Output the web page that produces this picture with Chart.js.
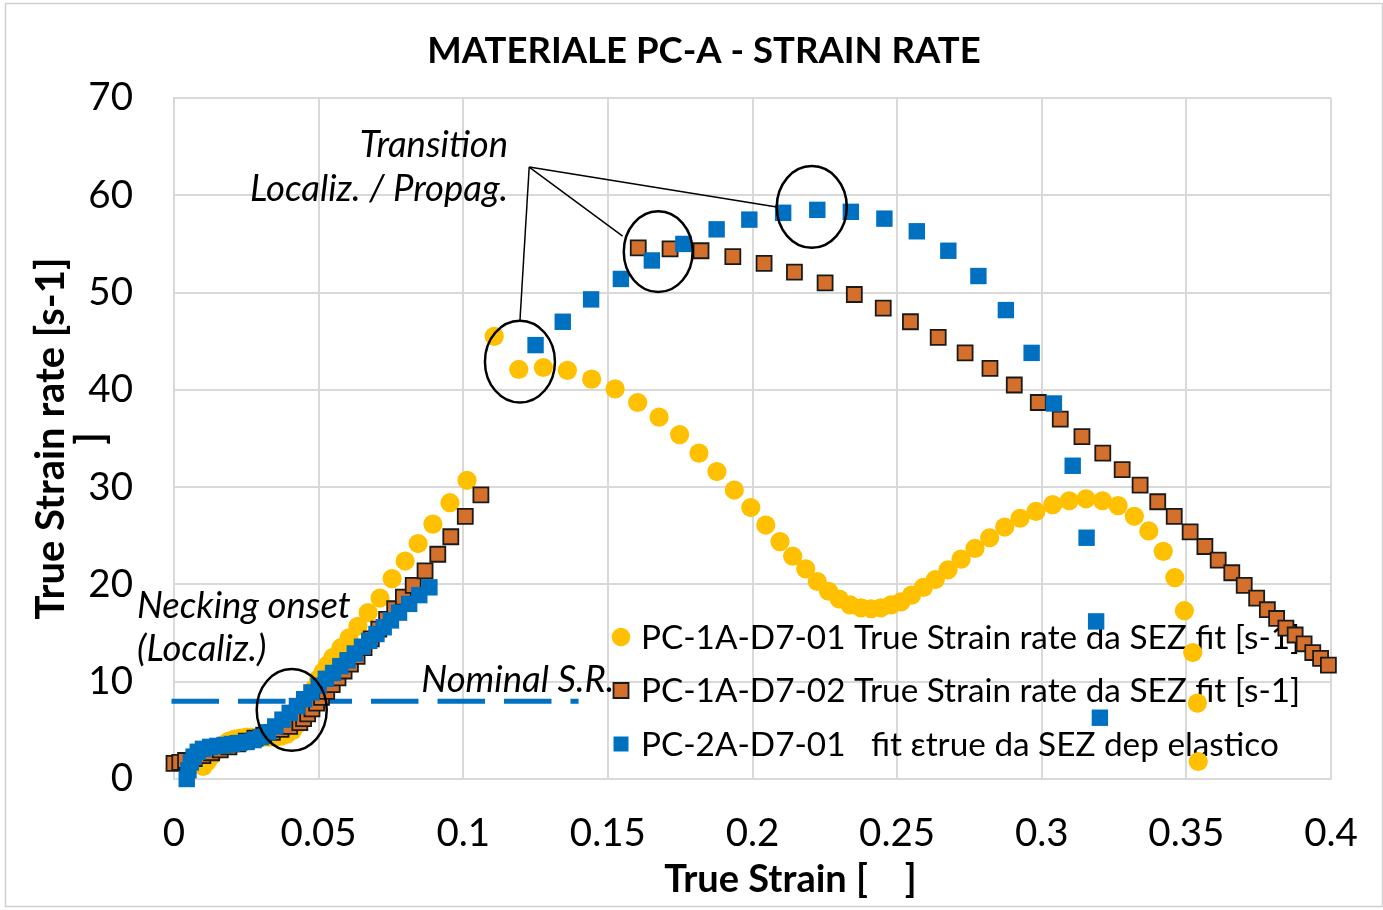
<!DOCTYPE html>
<html>
<head>
<meta charset="utf-8">
<title>Materiale PC-A - Strain rate</title>
<script src="https://cdn.jsdelivr.net/npm/chart.js@4.4.1/dist/chart.umd.min.js"></script>
<style>
  html, body { margin: 0; padding: 0; background: #ffffff; }
  canvas { display: block; }
</style>
</head>
<body>
<canvas id="chart" width="1383" height="910"></canvas>
<script>
// ---------- data ----------
// PC-1A-D7-01 True Strain rate da SEZ fit [s-1]
const pc1a01Strain = [
  0.0101, 0.0115, 0.0130, 0.0145, 0.0160, 0.0175, 0.0190, 0.0210, 0.0230, 0.0250,
  0.0270, 0.0290, 0.0310, 0.0330, 0.0350, 0.0370, 0.0390, 0.0410, 0.0425, 0.0440,
  0.0455, 0.0470, 0.0485, 0.0500, 0.0515, 0.0530, 0.0550, 0.0577, 0.0605, 0.0636,
  0.0671, 0.0712, 0.0754, 0.0799, 0.0844, 0.0895, 0.0954, 0.1013,
  0.1107, 0.1192, 0.1277, 0.1360, 0.1444, 0.1525, 0.1603, 0.1677, 0.1748, 0.1815,
  0.1877, 0.1937, 0.1994, 0.2046, 0.2095, 0.2139, 0.2184, 0.2224, 0.2263, 0.2300,
  0.2337, 0.2375, 0.2410, 0.2444, 0.2479, 0.2513, 0.2550, 0.2591, 0.2632, 0.2676,
  0.2721, 0.2769, 0.2820, 0.2872, 0.2925, 0.2980, 0.3038, 0.3095, 0.3153, 0.3210,
  0.3264, 0.3320, 0.3370, 0.3420, 0.3460, 0.3493, 0.3522, 0.3538, 0.3541
];
const pc1a01Rate = [
  1.3, 1.8, 2.4, 2.9, 3.3, 3.6, 3.9, 4.1, 4.2, 4.3,
  4.3, 4.3, 4.3, 4.3, 4.3, 4.4, 4.6, 5.0, 5.6, 6.4,
  7.3, 8.3, 9.3, 10.3, 11.0, 11.7, 12.5, 13.5, 14.5, 15.7,
  17.1, 18.6, 20.6, 22.4, 24.2, 26.2, 28.4, 30.7,
  45.5, 42.1, 42.3, 42.0, 41.1, 40.1, 38.7, 37.2, 35.4, 33.5,
  31.6, 29.7, 27.9, 26.1, 24.4, 22.9, 21.6, 20.3, 19.3, 18.5,
  17.9, 17.6, 17.5, 17.6, 17.9, 18.2, 18.9, 19.7, 20.5, 21.5,
  22.6, 23.7, 24.8, 25.9, 26.8, 27.5, 28.2, 28.6, 28.8, 28.6,
  28.1, 27.0, 25.5, 23.4, 20.7, 17.3, 13.0, 7.8, 1.8
];

// PC-1A-D7-02 True Strain rate da SEZ fit [s-1]
const pc1a02Strain = [
  0.0000, 0.0020, 0.0040, 0.0070, 0.0100, 0.0130, 0.0160, 0.0190, 0.0220, 0.0250,
  0.0280, 0.0310, 0.0340, 0.0370, 0.0400, 0.0435, 0.0448, 0.0462, 0.0477, 0.0493,
  0.0510, 0.0528, 0.0547, 0.0567, 0.0588, 0.0610, 0.0633, 0.0657, 0.0682, 0.0708,
  0.0735, 0.0763, 0.0793, 0.0827, 0.0868, 0.0912, 0.0957, 0.1007, 0.1061,
  0.1605, 0.1715, 0.1822, 0.1932, 0.2040, 0.2145, 0.2251, 0.2352, 0.2452, 0.2546,
  0.2642, 0.2735, 0.2821, 0.2905, 0.2988, 0.3064, 0.3139, 0.3211, 0.3278, 0.3340,
  0.3401, 0.3458, 0.3513, 0.3564, 0.3610, 0.3657, 0.3700, 0.3743, 0.3780, 0.3812,
  0.3844, 0.3876, 0.3907, 0.3937, 0.3964, 0.3991
];
const pc1a02Rate = [
  1.6, 1.7, 1.9, 2.1, 2.4, 2.7, 3.0, 3.3, 3.6, 3.9,
  4.2, 4.5, 4.8, 5.1, 5.4, 5.8, 6.2, 6.7, 7.2, 7.8,
  8.4, 9.0, 9.7, 10.4, 11.1, 11.8, 12.6, 13.5, 14.4, 15.4,
  16.4, 17.5, 18.7, 19.9, 21.4, 23.1, 24.9, 27.0, 29.2,
  54.6, 54.5, 54.3, 53.7, 53.0, 52.1, 51.0, 49.8, 48.4, 47.0,
  45.4, 43.8, 42.2, 40.5, 38.7, 37.0, 35.2, 33.5, 31.8, 30.2,
  28.5, 27.0, 25.4, 23.9, 22.5, 21.2, 19.9, 18.6, 17.4, 16.5,
  15.5, 14.8, 13.9, 13.0, 12.4, 11.7
];

// PC-2A-D7-01 fit etrue da SEZ dep elastico
const pc2a01Strain = [
  0.0044, 0.0050, 0.0058, 0.0068, 0.0082, 0.0100, 0.0125, 0.0150, 0.0175, 0.0200,
  0.0225, 0.0250, 0.0275, 0.0300, 0.0325, 0.0350, 0.0375, 0.0400, 0.0425, 0.0450,
  0.0475, 0.0500, 0.0525, 0.0550, 0.0575, 0.0600, 0.0625, 0.0650, 0.0675, 0.0700,
  0.0725, 0.0750, 0.0778, 0.0813, 0.0848, 0.0883,
  0.1250, 0.1344, 0.1442, 0.1545, 0.1652, 0.1761, 0.1876, 0.1989, 0.2106, 0.2224,
  0.2340, 0.2456, 0.2568, 0.2677, 0.2781, 0.2876, 0.2965, 0.3042, 0.3107, 0.3155,
  0.3188, 0.3201
];
const pc2a01Rate = [
  0.0, 0.9, 1.7, 2.3, 2.8, 3.1, 3.3, 3.4, 3.5, 3.6,
  3.7, 3.8, 4.0, 4.3, 4.8, 5.4, 6.1, 6.8, 7.5, 8.2,
  8.9, 9.6, 10.3, 10.9, 11.6, 12.2, 12.9, 13.6, 14.2, 14.9,
  15.6, 16.3, 17.1, 18.0, 18.9, 19.7,
  44.6, 47.0, 49.3, 51.4, 53.3, 55.0, 56.5, 57.5, 58.2, 58.5,
  58.3, 57.6, 56.3, 54.3, 51.7, 48.2, 43.8, 38.6, 32.2, 24.8,
  16.2, 6.3
];

// Nominal strain rate reference
const nominalStrain = [0, 0.139];
const nominalRate = [8, 8];

// Axis ticks
const xTickLabels = ['0', '0.05', '0.1', '0.15', '0.2', '0.25', '0.3', '0.35', '0.4'];
const yTickLabels = ['0', '10', '20', '30', '40', '50', '60', '70'];

// Series names
const seriesNames = [
  'PC-1A-D7-01 True Strain rate da SEZ fit [s-1]',
  'PC-1A-D7-02 True Strain rate da SEZ fit [s-1]',
  'PC-2A-D7-01   fit \u03b5true da SEZ dep elastico'
];

// ---------- helpers ----------
const FAMILY = "Lato, 'Open Sans', 'DejaVu Sans', sans-serif";
const TEXT = '#000000';
const GRID = '#d9d9d9';
const pts = (xs, ys) => xs.map((x, i) => ({ x: x, y: ys[i] }));

// Callout shapes, in data units
const ellipses = [
  { x: 0.0407, y: 7.1, rx: 0.0121, ry: 4.2 },
  { x: 0.1196, y: 42.9, rx: 0.0121, ry: 4.2 },
  { x: 0.1674, y: 54.2, rx: 0.0119, ry: 4.15 },
  { x: 0.2205, y: 58.8, rx: 0.0121, ry: 4.2 }
];
const leaderApex = { x: 0.1228, y: 62.9 };
const leaderEnds = [
  { x: 0.1196, y: 47.1 },
  { x: 0.1551, y: 55.8 },
  { x: 0.2084, y: 58.8 }
];
const notes = [
  { text: 'Transition', x: 0.1155, y: 63.9, align: 'right' },
  { text: 'Localiz. / Propag.', x: 0.1155, y: 59.4, align: 'right' },
  { text: 'Necking onset', x: -0.0128, y: 16.6, align: 'left' },
  { text: '(Localiz.)', x: -0.0128, y: 12.1, align: 'left' },
  { text: 'Nominal S.R.', x: 0.0855, y: 8.9, align: 'left' }
];

function drawMarker(ctx, style, x, y, r, fill, stroke, lw) {
  ctx.beginPath();
  if (style === 'circle') {
    ctx.arc(x, y, r, 0, Math.PI * 2);
  } else {
    const h = r * Math.SQRT1_2;
    ctx.rect(x - h, y - h, 2 * h, 2 * h);
  }
  ctx.fillStyle = fill;
  ctx.fill();
  if (lw > 0) {
    ctx.lineWidth = lw;
    ctx.strokeStyle = stroke;
    ctx.stroke();
  }
}

const decorations = {
  id: 'decorations',
  beforeDraw(chart) {
    const { ctx, width, height } = chart;
    ctx.save();
    ctx.fillStyle = '#ffffff';
    ctx.fillRect(0, 0, width, height);
    ctx.strokeStyle = '#d0d0d0';
    ctx.lineWidth = 1.5;
    ctx.strokeRect(5.5, 3.5, width - 6, height - 7);
    ctx.restore();
  },
  beforeDatasetsDraw(chart) {
    // legend sits inside the plot, beneath the markers
    const { ctx, chartArea } = chart;
    const mx = chartArea.left + 447;
    const tx = chartArea.left + 467;
    const top = chartArea.top + 539;
    const gap = 53.5;
    ctx.save();
    ctx.font = '33.3px ' + FAMILY;
    ctx.textAlign = 'left';
    ctx.textBaseline = 'middle';
    chart.data.datasets.filter(d => d.inLegend).forEach((d, i) => {
      const y = top + i * gap;
      const r = d.pointStyle === 'circle' ? 9.3 : d.legendRadius;
      drawMarker(ctx, d.pointStyle, mx, y, r, d.backgroundColor, d.borderColor, d.borderWidth);
      ctx.fillStyle = TEXT;
      ctx.fillText(d.label, tx, y + 1);
    });
    ctx.restore();
  },
  afterDatasetsDraw(chart) {
    const { ctx, chartArea } = chart;
    const sx = chart.scales.x, sy = chart.scales.y;
    const px = v => sx.getPixelForValue(v);
    const py = v => sy.getPixelForValue(v);
    ctx.save();
    // callout ellipses
    ctx.strokeStyle = '#000000';
    ctx.lineWidth = 2.5;
    ellipses.forEach(e => {
      ctx.beginPath();
      ctx.ellipse(px(e.x), py(e.y),
        Math.abs(px(e.x + e.rx) - px(e.x)), Math.abs(py(e.y + e.ry) - py(e.y)),
        0, 0, Math.PI * 2);
      ctx.stroke();
    });
    // leader lines
    ctx.lineWidth = 1.5;
    leaderEnds.forEach(p => {
      ctx.beginPath();
      ctx.moveTo(px(leaderApex.x), py(leaderApex.y));
      ctx.lineTo(px(p.x), py(p.y));
      ctx.stroke();
    });
    // italic notes
    ctx.fillStyle = TEXT;
    ctx.font = 'italic 36.5px ' + FAMILY;
    ctx.textBaseline = 'alphabetic';
    notes.forEach(n => {
      ctx.textAlign = n.align;
      ctx.fillText(n.text, px(n.x), py(n.y));
    });
    // chart title
    ctx.font = 'bold 36.5px ' + FAMILY;
    ctx.textAlign = 'center';
    ctx.fillText('MATERIALE PC-A - STRAIN RATE', 704, 63);
    // x axis title
    ctx.font = 'bold 38px ' + FAMILY;
    ctx.fillText('True Strain [    ]', (chartArea.left + chartArea.right) / 2 + 38, 892);
    ctx.restore();
  }
};

const ctx = document.getElementById('chart').getContext('2d');
new Chart(ctx, {
  type: 'scatter',
  data: {
    datasets: [
      {
        label: 'Nominal S.R.',
        data: pts(nominalStrain, nominalRate),
        showLine: true,
        pointRadius: 0,
        borderColor: '#0070c0',
        borderWidth: 5,
        borderDash: [42.5, 24],
        borderCapStyle: 'square',
        order: 3,
        clip: false
      },
      {
        label: seriesNames[0],
        data: pts(pc1a01Strain, pc1a01Rate),
        pointStyle: 'circle',
        pointRadius: 9.6,
        backgroundColor: '#ffc000',
        borderColor: '#ffc000',
        borderWidth: 0,
        inLegend: true,
        order: 2,
        clip: false
      },
      {
        label: seriesNames[1],
        data: pts(pc1a02Strain, pc1a02Rate),
        pointStyle: 'rect',
        pointRadius: 10.6,
        legendRadius: 10.6,
        backgroundColor: '#d4702b',
        borderColor: '#1a1a1a',
        borderWidth: 1.8,
        inLegend: true,
        order: 1,
        clip: false
      },
      {
        label: seriesNames[2],
        data: pts(pc2a01Strain, pc2a01Rate),
        pointStyle: 'rect',
        pointRadius: 11.6,
        legendRadius: 10.6,
        backgroundColor: '#0070c0',
        borderColor: '#0070c0',
        borderWidth: 0,
        inLegend: true,
        order: 0,
        clip: false
      }
    ]
  },
  options: {
    responsive: false,
    animation: false,
    devicePixelRatio: 1,
    events: [],
    layout: { padding: { left: 31, top: 98, right: 52, bottom: 0 } },
    plugins: {
      legend: { display: false },
      title: { display: false },
      tooltip: { enabled: false }
    },
    scales: {
      x: {
        type: 'linear',
        min: 0,
        max: 0.4,
        ticks: {
          stepSize: 0.05,
          padding: 31,
          color: TEXT,
          font: { family: FAMILY, size: 38.5 },
          callback: (v, i) => xTickLabels[i]
        },
        grid: { color: GRID, lineWidth: 2, drawTicks: false },
        border: { color: GRID, width: 2 },
        afterFit: s => { s.height = 131; s.paddingLeft = 0; s.paddingRight = 0; }
      },
      y: {
        type: 'linear',
        min: 0,
        max: 70,
        ticks: {
          stepSize: 10,
          padding: 41,
          color: TEXT,
          font: { family: FAMILY, size: 38.5 },
          callback: (v, i) => yTickLabels[i]
        },
        title: {
          display: true,
          text: ['True Strain rate [s-1]', ']'],
          color: TEXT,
          font: { family: FAMILY, size: 40, weight: 'bold', lineHeight: 1.0 },
          padding: { top: 0, bottom: 0 }
        },
        grid: { color: GRID, lineWidth: 2, drawTicks: false },
        border: { color: GRID, width: 2 },
        afterFit: s => { s.width = 143; s.paddingTop = 0; s.paddingBottom = 0; }
      }
    }
  },
  plugins: [decorations]
});
</script>
</body>
</html>
